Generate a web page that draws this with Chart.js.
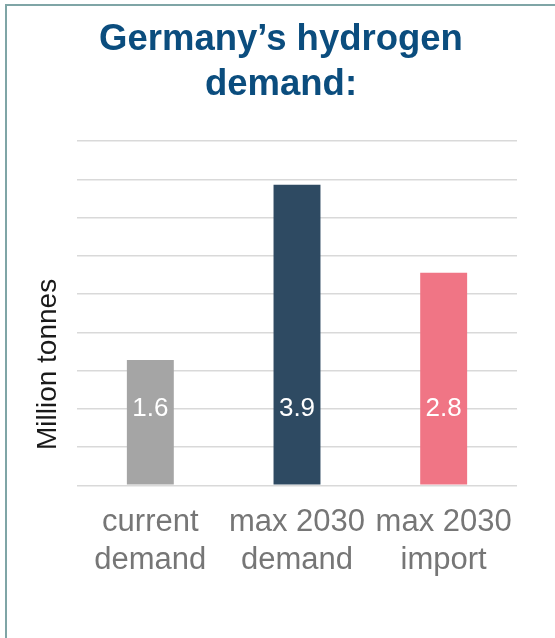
<!DOCTYPE html>
<html>
<head>
<meta charset="utf-8">
<script src="https://cdn.jsdelivr.net/npm/chart.js@4.4.1/dist/chart.umd.min.js"></script>
<style>
  html, body { margin: 0; padding: 0; background: #fff; }
  #frame {
    position: absolute; left: 5px; top: 4px; right: 0; bottom: 0;
    border-left: 2px solid #7fa5a6; border-top: 2px solid #7fa5a6;
  }
  #wrap { position: absolute; left: 7px; top: 6px; width: 548px; height: 632px; }
</style>
</head>
<body>
<div id="frame"></div>
<div id="wrap"><canvas id="chart"></canvas></div>
<script>
const categories = [['current', 'demand'], ['max 2030', 'demand'], ['max 2030', 'import']];
const demandValues = [1.64, 3.93, 2.78];
const barColors = ['#a5a5a5', '#2e4a62', '#f07585'];
const axisMin = 0;
const axisMax = 4.5;
const gridStep = 0.5;
const yTitle = 'Million tonnes';

const FONT = "'Liberation Sans', Arial, sans-serif";

// white value labels low in each bar + the y title (sits below the middle of the axis)
const valueLabels = {
  id: 'valueLabels',
  afterDatasetsDraw(chart) {
    const ctx = chart.ctx;
    const yScale = chart.scales.y;
    const y = yScale.getPixelForValue(1);
    const meta = chart.getDatasetMeta(0);
    ctx.save();
    ctx.fillStyle = '#ffffff';
    ctx.font = '26px ' + FONT;
    ctx.textAlign = 'center';
    ctx.textBaseline = 'middle';
    meta.data.forEach((bar, i) => {
      ctx.fillText(demandValues[i].toFixed(1), bar.x, y);
    });
    ctx.restore();

    ctx.save();
    ctx.translate(yScale.left + 41, yScale.getPixelForValue(1.58));
    ctx.rotate(-Math.PI / 2);
    ctx.fillStyle = '#1a1a1a';
    ctx.font = '28px ' + FONT;
    ctx.textAlign = 'center';
    ctx.textBaseline = 'middle';
    ctx.fillText(yTitle, 0, 0);
    ctx.restore();
  }
};

new Chart(document.getElementById('chart'), {
  type: 'bar',
  data: {
    labels: categories,
    datasets: [{
      data: demandValues,
      backgroundColor: barColors,
      borderWidth: 0,
      barPercentage: 0.32,
      categoryPercentage: 1
    }]
  },
  options: {
    responsive: true,
    maintainAspectRatio: false,
    animation: false,
    layout: { padding: { left: 0, right: 0, top: 0, bottom: 41 } },
    plugins: {
      legend: { display: false },
      tooltip: { enabled: false },
      title: {
        display: true,
        text: ['Germany\u2019s hydrogen', 'demand:'],
        color: '#0b4d7e',
        font: { family: FONT, size: 36.5, weight: 'bold', lineHeight: 1.22 },
        padding: { top: 12, bottom: 34 }
      }
    },
    scales: {
      x: {
        grid: { display: false, drawTicks: false },
        border: { display: false },
        ticks: {
          color: '#767676',
          font: { family: FONT, size: 31, lineHeight: 1.22 },
          padding: 18,
          maxRotation: 0,
          autoSkip: false
        }
      },
      y: {
        position: 'left',
        min: axisMin,
        max: axisMax,
        grid: { color: '#d9d9d9', lineWidth: 1.5, drawTicks: false },
        border: { display: false },
        ticks: { display: false, stepSize: gridStep },
        afterFit(scale) { scale.width = 70; }
      },
      yRight: {
        position: 'right',
        min: axisMin,
        max: axisMax,
        grid: { display: false, drawTicks: false },
        border: { display: false },
        ticks: { display: false },
        afterFit(scale) { scale.width = 38; }
      }
    }
  },
  plugins: [valueLabels]
});
</script>
</body>
</html>
